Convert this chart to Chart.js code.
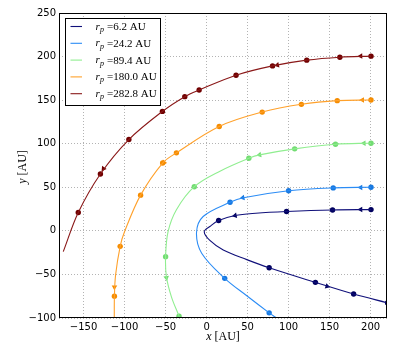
<!DOCTYPE html>
<html>
<head>
<meta charset="utf-8">
<script src="https://cdn.jsdelivr.net/npm/chart.js@4"></script>
<style>
  html, body { margin: 0; padding: 0; background: #fff; }
  #wrap { width: 399px; height: 354px; }
</style>
</head>
<body>
<div id="wrap"><canvas id="orbits"></canvas></div>
<script>
"use strict";

// periapsis distances shown in the legend
const periapsis = ['6.2', '24.2', '89.4', '180.0', '282.8'];
const xTickValues = [-150, -100, -50, 0, 50, 100, 150, 200];
const yTickValues = [-100, -50, 0, 50, 100, 150, 200, 250];

// tracks, listed in the direction of motion
const track62X = [200.5, 153.6, 97.5, 60, 34.7, 14.7, 4, -2.9, 4, 20.3, 49, 76.3, 132.7, 179.3, 220.6];
const track62Y = [24.4, 24.0, 22.2, 20.2, 17.6, 11.8, 5, -1, -11, -22, -33, -42.3, -59.1, -72.5, -82.6];
const dots62X = [200.5, 153.6, 97.5, 14.7, 76.3, 132.7, 179.3, 220.6];
const dots62Y = [24.4, 24.0, 22.2, 11.8, -42.3, -59.1, -72.5, -82.6];
const arrows62X = [187.9, 34.7, 147];
const arrows62Y = [24.4, 17.6, -63.6];

const track242X = [200.5, 154.4, 100, 44.9, 28.6, -4.2, -12.3, -6, 22.1, 49, 76.3, 85.8];
const track242Y = [50, 49.3, 46, 38, 32.8, 16.5, -2, -25.7, -54.5, -74.5, -94.1, -100.5];
const dots242X = [200.5, 154.4, 100, 28.6, 22.1, 76.3];
const dots242Y = [50, 49.3, 46, 32.8, -54.5, -94.1];
const arrows242X = [187.9, 44.1];
const arrows242Y = [49.8, 38];

const track894X = [200.5, 157.2, 107.4, 64.5, 51.5, 16.3, -15, -36.8, -47, -50, -49, -42.9, -33.6, -32.7];
const track894Y = [100.6, 99.4, 94.1, 87.2, 83.3, 68.5, 50.7, 24.2, -1, -29.6, -52.6, -75.7, -97.9, -100.5];
const dots894X = [200.5, 157.2, 107.4, 51.5, -15, -50, -33.6];
const dots894Y = [100.6, 99.4, 94.1, 83.3, 50.7, -29.6, -97.9];
const arrows894X = [191.9, 64.5, -49];
const arrows894Y = [100.5, 87.2, -53.8];

const track1800X = [200.5, 159.3, 115.6, 67.8, 15.4, -36.8, -53.6, -80.5, -100, -105.4, -111, -112.4, -112.6];
const track1800Y = [150.1, 149.4, 145.2, 136.3, 119.8, 89.5, 77.8, 41, -0.8, -17.8, -50.7, -74.9, -100.5];
const dots1800X = [200.5, 159.3, 115.6, 67.8, 15.4, -36.8, -53.6, -80.5, -105.4, -112.4];
const dots1800Y = [150.1, 149.4, 145.2, 136.3, 119.8, 89.5, 77.8, 41, -17.8, -74.9];
const arrows1800X = [190, -52, -112.4];
const arrows1800Y = [150.1, 78.5, -64.5];

const track2828X = [200.5, 162.5, 122.1, 80.4, 35.9, -9.1, -26.6, -53.9, -94.8, -129.5, -156.5, -174.8];
const track2828Y = [200.5, 199.3, 195.9, 189.3, 178.6, 161.6, 154, 137.1, 104.8, 65.3, 21.1, -23.8];
const dots2828X = [200.5, 162.5, 122.1, 80.4, 35.9, -9.1, -26.6, -53.9, -94.8, -129.5, -156.5];
const dots2828Y = [200.5, 199.3, 195.9, 189.3, 178.6, 161.6, 154, 137.1, 104.8, 65.3, 21.1];
const arrows2828X = [187.9, 86.2, -125.8];
const arrows2828Y = [200.5, 190.2, 71.4];

const lineColors = ['#10107a', '#2b8cf5', '#90ee90', '#ffa12b', '#8a1818'];
const dotColors = ['#00005e', '#1778e0', '#72dc72', '#f58c00', '#700000'];

function pts(xs, ys) {
    return xs.map((x, i) => ({ x: x, y: ys[i] }));
}

const series = [
    [track62X, track62Y, dots62X, dots62Y, arrows62X, arrows62Y],
    [track242X, track242Y, dots242X, dots242Y, arrows242X, arrows242Y],
    [track894X, track894Y, dots894X, dots894Y, arrows894X, arrows894Y],
    [track1800X, track1800Y, dots1800X, dots1800Y, arrows1800X, arrows1800Y],
    [track2828X, track2828Y, dots2828X, dots2828Y, arrows2828X, arrows2828Y]
];

// heading of an arrow = direction of the track near it, in pixels
function heading(ctx) {
    const ds = ctx.dataset;
    const p = ds.data[ctx.dataIndex];
    const sx = ctx.chart.scales.x, sy = ctx.chart.scales.y;
    if (!p || !sx || !sy) return 0;
    const track = ds.track.map(q => [sx.getPixelForValue(q.x), sy.getPixelForValue(q.y)]);
    const px = sx.getPixelForValue(p.x), py = sy.getPixelForValue(p.y);
    let best = 0, bestD = Infinity;
    track.forEach((q, i) => {
        const d = (q[0] - px) ** 2 + (q[1] - py) ** 2;
        if (d < bestD) { bestD = d; best = i; }
    });
    const a = track[Math.max(0, best - 1)];
    const b = track[Math.min(track.length - 1, best + 1)];
    return Math.atan2(b[0] - a[0], -(b[1] - a[1])) * 180 / Math.PI;
}

const datasets = [];
series.forEach((s, k) => {
    const track = pts(s[0], s[1]);
    datasets.push({
        label: periapsis[k], data: track, showLine: true, tension: 0.35,
        borderColor: lineColors[k], borderWidth: 1.1, pointRadius: 0, clip: 0
    });
    datasets.push({
        data: pts(s[2], s[3]), showLine: false, pointRadius: 2.7,
        pointBackgroundColor: dotColors[k], pointBorderColor: dotColors[k], pointBorderWidth: 0, clip: 0
    });
    datasets.push({
        data: pts(s[4], s[5]), track: track, showLine: false, pointStyle: 'triangle', pointRadius: 3.2,
        rotation: heading, pointBackgroundColor: dotColors[k], pointBorderColor: dotColors[k],
        pointBorderWidth: 0, clip: 0
    });
});

const serif = '"Liberation Serif", "DejaVu Serif", serif';

// frame, axis titles and legend drawn on top of the plot
const decorations = {
    id: 'decorations',
    afterDraw(chart) {
        const ctx = chart.ctx;
        const a = chart.chartArea;
        ctx.save();
        ctx.strokeStyle = '#000';
        ctx.lineWidth = 1;
        ctx.strokeRect(a.left + 0.5, a.top + 0.5, a.right - a.left - 1, a.bottom - a.top - 1);

        ctx.fillStyle = '#000';
        ctx.textBaseline = 'alphabetic';
        const drawTitle = (sym, cx, cy) => {
            ctx.font = 'italic 12px ' + serif;
            const w1 = ctx.measureText(sym).width;
            ctx.font = '12px ' + serif;
            const w2 = ctx.measureText(' [AU]').width;
            let x = cx - (w1 + w2) / 2;
            ctx.font = 'italic 12px ' + serif;
            ctx.fillText(sym, x, cy);
            ctx.font = '12px ' + serif;
            ctx.fillText(' [AU]', x + w1, cy);
        };
        drawTitle('x', (a.left + a.right) / 2, 340);
        ctx.save();
        ctx.translate(26, 167);
        ctx.rotate(-Math.PI / 2);
        drawTitle('y', 0, 0);
        ctx.restore();

        // legend
        ctx.fillStyle = '#fff';
        ctx.fillRect(65.5, 18.5, 95, 87);
        ctx.strokeStyle = '#000';
        ctx.strokeRect(65.5, 18.5, 95, 87);
        periapsis.forEach((v, i) => {
            const y = 26.5 + i * 16.8;
            ctx.strokeStyle = lineColors[i];
            ctx.lineWidth = 1.1;
            ctx.beginPath();
            ctx.moveTo(70.5, y);
            ctx.lineTo(82, y);
            ctx.stroke();
            ctx.fillStyle = '#000';
            ctx.font = 'italic 11px ' + serif;
            ctx.fillText('r', 95.5, y + 3);
            ctx.font = 'italic 8px ' + serif;
            ctx.fillText('p', 100, y + 5.5);
            ctx.font = '11px ' + serif;
            ctx.fillText('=' + v + ' AU', 107, y + 3.5);
        });
        ctx.restore();
    }
};

const minus = v => String(v).replace('-', '\u2212');

new Chart(document.getElementById('orbits'), {
    type: 'scatter',
    data: { datasets: datasets },
    options: {
        responsive: true,
        maintainAspectRatio: false,
        animation: false,
        events: [],
        layout: { padding: { top: 13, right: 12, left: 0, bottom: 0 } },
        plugins: { legend: { display: false }, tooltip: { enabled: false } },
        scales: {
            x: {
                type: 'linear', min: -180, max: 220,
                afterBuildTicks: s => { s.ticks = xTickValues.map(v => ({ value: v })); },
                afterFit: s => { s.height = 36; },
                border: { display: false, dash: [1, 2] },
                grid: { color: '#a0a0a0', lineWidth: 0.8, drawTicks: false },
                ticks: { color: '#000', padding: 3, font: { family: '"DejaVu Sans"', size: 10 }, callback: minus, maxRotation: 0 }
            },
            y: {
                type: 'linear', min: -100, max: 250,
                afterBuildTicks: s => { s.ticks = yTickValues.map(v => ({ value: v })); },
                afterFit: s => { s.width = 59; },
                border: { display: false, dash: [1, 2] },
                grid: { color: '#a0a0a0', lineWidth: 0.8, drawTicks: false },
                ticks: { color: '#000', padding: 3, font: { family: '"DejaVu Sans"', size: 10 }, callback: minus }
            }
        }
    },
    plugins: [decorations]
});
</script>
</body>
</html>
